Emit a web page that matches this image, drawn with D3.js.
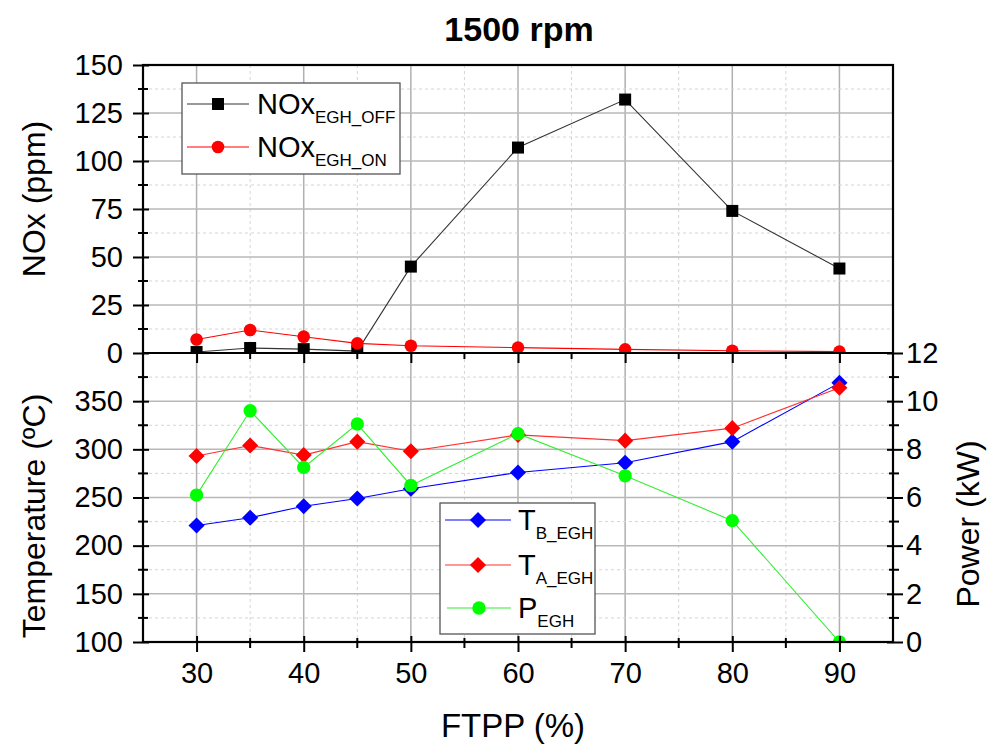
<!DOCTYPE html>
<html><head><meta charset="utf-8">
<script src="https://cdn.jsdelivr.net/npm/d3@7"></script>
<style>body{margin:0;background:#fff}svg{display:block}text{font-family:"Liberation Sans",Arial,sans-serif}</style>
</head><body>
<svg id="c" width="990" height="746"></svg>
<script>
// ---- data ----
const ftpp = [30, 35, 40, 45, 50, 60, 70, 80, 90];
const noxOff = [0.5, 2.6, 2, 1, 45, 107, 132, 74, 44];
const noxOn = [7, 12, 8.5, 5, 3.8, 2.8, 1.9, 1.2, 0.7];
const tB = [221, 229, 241, 249, 259, 276, 286, 308, 369];
const tA = [293, 304, 294, 308, 298, 315, 309, 322, 364];
const pEgh = [6.1, 9.6, 7.25, 9.05, 6.5, 8.65, 6.9, 5.04, 0];
const xTicks = [30, 40, 50, 60, 70, 80, 90];
const noxTicks = [0, 25, 50, 75, 100, 125, 150];
const tempTicks = [100, 150, 200, 250, 300, 350];
const powerTicks = [0, 2, 4, 6, 8, 10, 12];
const titleText = "1500 rpm";

// ---- layout ----
const L = 143, R = 893, T1 = 65, M = 353, B = 642;
const svg = d3.select("#c");
const x = d3.scaleLinear([25, 95], [L, R]);
const yN = d3.scaleLinear([0, 150], [M, T1]);
const yT = d3.scaleLinear([100, 400], [B, M]);
const yP = d3.scaleLinear([0, 12], [B, M]);
const FF = '"Liberation Sans",Arial,sans-serif';
const TICKFS = 29;

const defs = svg.append("defs");
defs.append("clipPath").attr("id", "cTop").append("rect").attr("x", L).attr("y", T1).attr("width", R - L).attr("height", M - T1);
defs.append("clipPath").attr("id", "cBot").append("rect").attr("x", L).attr("y", M).attr("width", R - L).attr("height", B - M);

// ---- grid ----
const grid = svg.append("g");
function hgrid(scale, major, minor, x0, x1) {
  grid.selectAll(null).data(minor).join("line")
    .attr("x1", x0).attr("x2", x1).attr("y1", d => scale(d)).attr("y2", d => scale(d))
    .attr("stroke", "#d4d4d4").attr("stroke-width", 1).attr("stroke-dasharray", "3,3");
  grid.selectAll(null).data(major).join("line")
    .attr("x1", x0).attr("x2", x1).attr("y1", d => scale(d)).attr("y2", d => scale(d))
    .attr("stroke", "#b8b8b8").attr("stroke-width", 1.5);
}
const xMinor = d3.range(35, 95, 10);
const xMajorAll = d3.range(30, 95, 10);
[[T1, M], [M, B]].forEach(([a, b]) => {
  grid.selectAll(null).data(xMinor).join("line")
    .attr("x1", d => x(d)).attr("x2", d => x(d)).attr("y1", a).attr("y2", b)
    .attr("stroke", "#d4d4d4").attr("stroke-width", 1).attr("stroke-dasharray", "3,3");
  grid.selectAll(null).data(xMajorAll).join("line")
    .attr("x1", d => x(d)).attr("x2", d => x(d)).attr("y1", a).attr("y2", b)
    .attr("stroke", "#b0b0b0").attr("stroke-width", 1.5);
});
hgrid(yN, noxTicks.slice(1, -1), d3.range(12.5, 150, 25), L, R);
hgrid(yT, tempTicks.slice(1), d3.range(125, 400, 50), L, R);

// ---- series ----
function series(clip, xs, ys, scale, color, lineColor, shape, size) {
  const g = svg.append("g").attr("clip-path", `url(#${clip})`);
  const pts = xs.map((d, i) => [x(d), scale(ys[i])]);
  g.append("path").attr("d", d3.line()(pts)).attr("fill", "none").attr("stroke", lineColor).attr("stroke-width", 1.1);
  g.selectAll(null).data(pts).join("path")
    .attr("transform", d => `translate(${d[0]},${d[1]})`)
    .attr("d", d3.symbol(shape, size)())
    .attr("fill", color);
}
series("cTop", ftpp, noxOff, yN, "#000", "#333", d3.symbolSquare, 144);
series("cTop", ftpp, noxOn, yN, "#ff0000", "#ff0000", d3.symbolCircle, 125);
series("cBot", ftpp, tB, yT, "#0000ff", "#0000ff", d3.symbolDiamond2, 165);
series("cBot", ftpp, tA, yT, "#ff0000", "#ff3030", d3.symbolDiamond2, 165);
series("cBot", ftpp, pEgh, yP, "#00ff00", "#33ee33", d3.symbolCircle, 140);

// ---- axes ----
const AX = svg.append("g");
function styleAxis(g, fs) {
  g.select(".domain").remove();
  g.selectAll("text").attr("font-size", fs).attr("font-family", FF).attr("fill", "#000");
  g.selectAll(".tick line").attr("stroke", "#000").attr("stroke-width", 2);
}
const aL1 = AX.append("g").attr("transform", `translate(${L},0)`)
  .call(d3.axisLeft(yN).tickValues(noxTicks).tickSizeInner(10).tickSizeOuter(0).tickPadding(10));
styleAxis(aL1, TICKFS); aL1.selectAll(".tick line").attr("x1", 6);
const aL2 = AX.append("g").attr("transform", `translate(${L},0)`)
  .call(d3.axisLeft(yT).tickValues(tempTicks).tickSizeInner(10).tickSizeOuter(0).tickPadding(10));
styleAxis(aL2, TICKFS); aL2.selectAll(".tick line").attr("x1", 6);
const aR = AX.append("g").attr("transform", `translate(${R},0)`)
  .call(d3.axisRight(yP).tickValues(powerTicks).tickSizeInner(10).tickSizeOuter(0).tickPadding(3));
styleAxis(aR, TICKFS); aR.selectAll(".tick line").attr("x1", -6);
const aB = AX.append("g").attr("transform", `translate(0,${B})`)
  .call(d3.axisBottom(x).tickValues(xTicks).tickSizeInner(10).tickSizeOuter(0).tickPadding(10));
styleAxis(aB, TICKFS); aB.selectAll(".tick line").attr("y1", -6);
AX.append("g").attr("transform", `translate(0,${M})`)
  .call(d3.axisBottom(x).tickValues(xTicks).tickSizeInner(10).tickSizeOuter(0).tickFormat(""))
  .call(g => { g.select(".domain").remove(); g.selectAll(".tick line").attr("stroke", "#000").attr("stroke-width", 2); });

// minor ticks
const mt = AX.append("g").attr("stroke", "#000").attr("stroke-width", 2);
d3.range(12.5, 150, 25).forEach(v => mt.append("line").attr("x1", L - 5).attr("x2", L + 5).attr("y1", yN(v)).attr("y2", yN(v)));
d3.range(125, 400, 50).forEach(v => mt.append("line").attr("x1", L - 5).attr("x2", L + 5).attr("y1", yT(v)).attr("y2", yT(v)));
d3.range(1, 12, 2).forEach(v => mt.append("line").attr("x1", R - 4).attr("x2", R + 6).attr("y1", yP(v)).attr("y2", yP(v)));
xMinor.forEach(v => {
  mt.append("line").attr("x1", x(v)).attr("x2", x(v)).attr("y1", B - 4).attr("y2", B + 6);
  mt.append("line").attr("x1", x(v)).attr("x2", x(v)).attr("y1", M).attr("y2", M + 6);
});

// frame
const fr = AX.append("g").attr("stroke", "#000").attr("stroke-width", 2.2).attr("fill", "none");
fr.append("rect").attr("x", L).attr("y", T1).attr("width", R - L).attr("height", B - T1);
fr.append("line").attr("x1", L).attr("x2", R).attr("y1", M).attr("y2", M);

// ---- titles ----
svg.append("text").attr("x", (L + R) / 2 + 1).attr("y", 41).attr("text-anchor", "middle")
  .attr("font-size", 34).attr("font-weight", "bold").attr("font-family", FF).text(titleText);
svg.append("text").attr("transform", `translate(45,${199}) rotate(-90)`).attr("text-anchor", "middle")
  .attr("font-size", 32).attr("font-family", FF).text("NOx (ppm)");
svg.append("text").attr("transform", `translate(45,${516}) rotate(-90)`).attr("text-anchor", "middle")
  .attr("font-size", 32).attr("font-family", FF).text("Temperature (ºC)");
svg.append("text").attr("transform", `translate(979,${524}) rotate(-90)`).attr("text-anchor", "middle")
  .attr("font-size", 32).attr("font-family", FF).text("Power (kW)");
svg.append("text").attr("x", 513).attr("y", 737).attr("text-anchor", "middle")
  .attr("font-size", 33).attr("font-family", FF).text("FTPP (%)");

// ---- legends ----
function legend(box, rows) {
  const g = svg.append("g");
  g.append("rect").attr("x", box[0]).attr("y", box[1]).attr("width", box[2]).attr("height", box[3])
    .attr("fill", "#fff").attr("stroke", "#555").attr("stroke-width", 1.3);
  rows.forEach(r => {
    g.append("line").attr("x1", r.lx0).attr("x2", r.lx1).attr("y1", r.y).attr("y2", r.y)
      .attr("stroke", r.line).attr("stroke-width", 1.1);
    g.append("path").attr("transform", `translate(${(r.lx0 + r.lx1) / 2},${r.y})`)
      .attr("d", d3.symbol(r.shape, r.size)()).attr("fill", r.color);
    const t = g.append("text").attr("x", r.tx).attr("y", r.y + 10).attr("font-size", 29).attr("font-family", FF).text(r.main);
    t.append("tspan").attr("font-size", 17).attr("dy", 9).text(r.sub);
  });
}
legend([182, 83, 218, 91], [
  { y: 104, lx0: 187, lx1: 249, tx: 257, main: "NOx", sub: "EGH_OFF", line: "#333", color: "#000", shape: d3.symbolSquare, size: 144 },
  { y: 147, lx0: 187, lx1: 249, tx: 257, main: "NOx", sub: "EGH_ON", line: "#ff0000", color: "#ff0000", shape: d3.symbolCircle, size: 125 }
]);
legend([440, 503, 155, 131], [
  { y: 520, lx0: 445, lx1: 511, tx: 518, main: "T", sub: "B_EGH", line: "#0000ff", color: "#0000ff", shape: d3.symbolDiamond2, size: 165 },
  { y: 565, lx0: 445, lx1: 511, tx: 518, main: "T", sub: "A_EGH", line: "#ff3030", color: "#ff0000", shape: d3.symbolDiamond2, size: 165 },
  { y: 608, lx0: 447, lx1: 511, tx: 518, main: "P", sub: "EGH", line: "#33ee33", color: "#00ff00", shape: d3.symbolCircle, size: 140 }
]);
</script>
</body></html>
